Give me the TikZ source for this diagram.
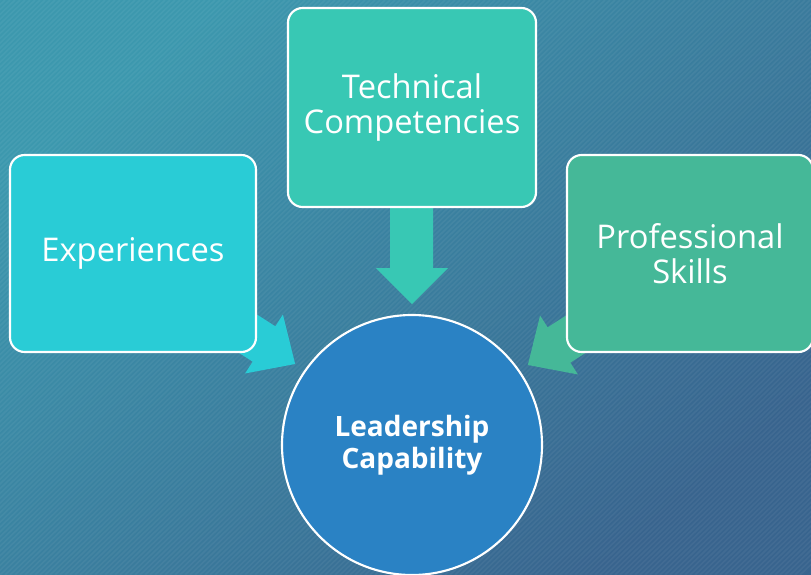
\documentclass[tikz,border=0pt]{standalone}
\usepackage{fontspec}
\setmainfont{Open Sans}
\definecolor{bgA}{RGB}{60,152,174}
\definecolor{bgB}{RGB}{56,100,142}
\definecolor{cyanbox}{RGB}{41,204,214}
\definecolor{tealbox}{RGB}{56,200,180}
\definecolor{greenbox}{RGB}{69,184,152}
\definecolor{circblue}{RGB}{42,130,196}
\tikzset{
  box/.style={draw=white, line width=1.6pt, rounded corners=11pt, minimum width=246*0.75pt, minimum height=197*0.75pt, text=white, align=center, font=\fontsize{24.5}{26.5}\selectfont, inner sep=0pt},
  circ/.style={circle, draw=white, line width=1.6pt, fill=circblue, minimum size=260*0.75pt, text=white, align=center, font=\bfseries\fontsize{21}{24}\selectfont, inner sep=0pt},
}
\begin{document}
\begin{tikzpicture}[x=0.75pt,y=-0.75pt]
\useasboundingbox (0,0) rectangle (811,575);
\shade[top color=bgA, bottom color=bgB, shading angle=40] (0,0) rectangle (811,575);
\begin{scope}
\clip (0,0) rectangle (811,575);
\foreach \i in {0,5,...,1400} {
  \draw[white, opacity=0.05, line width=1.2pt] (\i-600,575) -- (\i,0);
}
\end{scope}
% arrows
\coordinate (dtip) at (412,304);
\fill[tealbox] (390,200) -- (433,200) -- (433,268) -- (448,268) -- (dtip) -- (376,268) -- (390,268) -- cycle;
\begin{scope}[shift={(264,344)}, rotate=-32.7]
\coordinate (ltip) at (37,0);
\fill[cyanbox] (-90,-21) -- (0,-21) -- (0,-35) -- (ltip) -- (0,35) -- (0,21) -- (-90,21) -- cycle;
\end{scope}
\begin{scope}[shift={(559,345)}, rotate=32.7, xscale=-1]
\coordinate (rtip) at (37,0);
\fill[greenbox] (-90,-21) -- (0,-21) -- (0,-35) -- (rtip) -- (0,35) -- (0,21) -- (-90,21) -- cycle;
\end{scope}
% boxes
\node[box, fill=cyanbox] (exp) at (133,253.5) {Experiences};
\node[box, fill=tealbox, minimum width=248*0.75pt, minimum height=199*0.75pt] (tech) at (412,107.5) {Technical\\Competencies};
\node[box, fill=greenbox] (prof) at (690,253.5) {Professional\\Skills};
\node[circ] (lead) at (412,445) {Leadership\\Capability};
\end{tikzpicture}
\end{document}
